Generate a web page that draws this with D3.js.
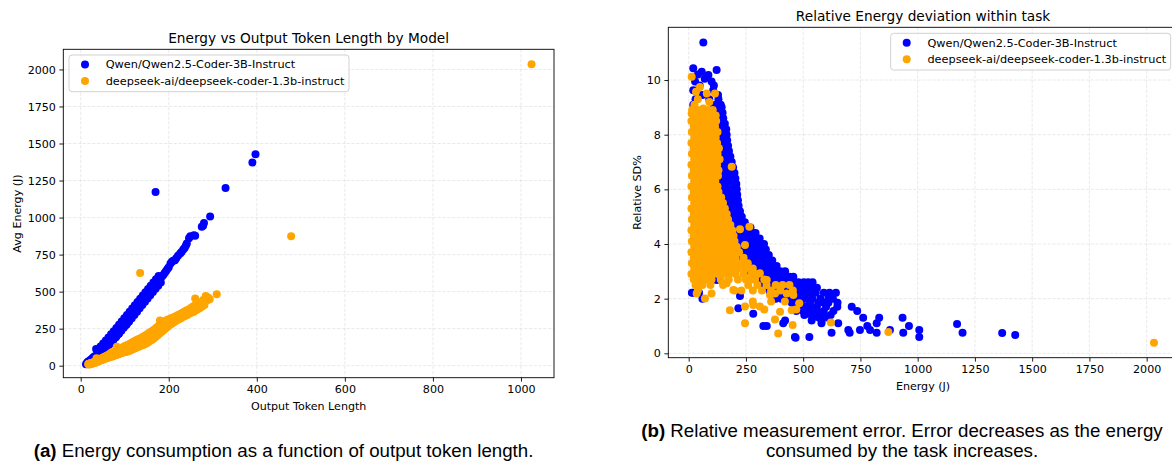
<!DOCTYPE html>
<html>
<head>
<meta charset="utf-8">
<script src="https://cdn.jsdelivr.net/npm/d3@7"></script>
<style>
  body { margin: 0; background: #fff; }
  svg { display: block; }
</style>
</head>
<body>
<svg id="fig" width="1172" height="461"></svg>
<script>
// ---- data ----
var seriesNames = ["Qwen/Qwen2.5-Coder-3B-Instruct", "deepseek-ai/deepseek-coder-1.3b-instruct"];
var seriesColors = ["blue", "orange"];

var tokenTicks = [0, 200, 400, 600, 800, 1000];
var energyTicks = [0, 250, 500, 750, 1000, 1250, 1500, 1750, 2000];
var sdTicks = [0, 2, 4, 6, 8, 10];

// (a) [output tokens, avg energy J]
var qwenTokens = [
  [12,10],[14,16],[15,22],[17,28],[18,20],[20,32],[22,38],[23,30],[25,45],[27,52],[28,42],[30,58],
  [32,64],[33,52],[35,112],[36,70],[38,78],[40,84],[41,72],[43,92],[45,100],[47,90],[48,108],[50,116],
  [52,108],[53,124],[55,132],[57,126],[58,140],[60,146],[62,138],[63,154],[65,160],[67,156],[68,168],
  [70,176],[72,172],[73,184],[75,192],[77,188],[78,200],[80,208],[82,204],[83,216],[85,224],[87,218],
  [88,232],[90,242],[92,238],[93,250],[95,260],[97,256],[98,268],[100,278],[102,274],[103,288],[105,296],
  [107,292],[108,306],[110,314],[112,322],[113,330],[115,334],[117,340],[118,350],[120,356],[122,362],
  [124,370],[125,378],[127,382],[129,392],[130,398],[132,404],[134,412],[135,421],[137,426],[139,432],
  [141,440],[143,448],[145,455],[147,462],[149,470],[151,478],[153,484],[155,492],[157,500],[159,510],
  [161,514],[163,522],[165,530],[167,538],[169,545],[171,552],[173,564],[175,570],[177,578],[179,584],
  [182,595],[185,604],[188,614],[191,628],[194,640],[197,652],[200,664],[204,690],[207,701],[210,708],
  [214,712],[217,726],[221,742],[226,758],[229,768],[233,784],[236,795],[239,812],[241,825],[246,860],
  [249,874],[257,880],[260,878],[275,938],[278,945],[280,964],[294,1008],
  [45,130],[51,150],[57,170],[63,190],[69,212],[75,232],[81,254],[87,276],[93,298],[99,320],[105,342],
  [111,364],[117,386],[123,408],[129,430],[135,452],[141,474],[147,496],[153,518],[159,540],[165,562],
  [171,584],[177,606],
  [50,90],[56,110],[62,130],[68,150],[74,172],[80,192],[86,214],[92,236],[98,258],[104,276],[110,298],
  [116,320],[122,342],[128,364],[134,388],[140,410],[146,432],[152,454],[158,476],[164,498],[170,520],
  [176,540],[182,562],
  [170,1173],[329,1200],[390,1371],[397,1427]
];
var deepseekTokens = [
  [17,10],[18,13],[19,8],[20,14],[21,10],[22,16],[23,12],[24,18],[25,14],[26,20],[27,16],[28,22],[29,17],
  [30,24],[31,19],[32,26],[33,21],[34,28],[35,23],[36,50],[36,30],[37,26],[38,34],[39,28],[40,36],[41,30],
  [42,40],[43,34],[44,42],[45,36],[46,46],[47,38],[48,50],[49,42],[50,54],[50,40],[52,50],[53,58],[54,46],
  [55,56],[56,62],[57,48],[58,60],[59,68],[60,52],[61,64],[62,72],[63,54],[64,66],[65,78],[66,58],[67,72],
  [68,84],[69,60],[70,76],[71,90],[72,62],[73,80],[74,94],[75,66],[76,84],[77,100],[78,70],[79,88],
  [80,104],[81,72],[82,128],[82,92],[83,76],[84,108],[85,96],[86,78],[87,112],[88,100],[89,82],[90,116],
  [91,104],[92,86],[93,120],[94,106],[95,88],[96,124],[97,110],[98,90],[99,130],[100,112],[101,92],
  [102,134],[103,114],[104,94],[105,138],[106,118],[107,98],[108,142],[109,122],[110,100],[111,146],
  [112,126],[113,104],[114,152],[115,130],[116,108],[117,156],[118,134],[119,112],[120,162],[121,138],
  [122,116],[123,166],[124,142],[125,120],[126,172],[127,146],[128,124],[129,176],[130,150],[131,128],
  [132,180],[133,154],[134,132],[136,186],[137,158],[138,136],[140,192],[141,162],[142,140],[144,198],
  [145,168],[146,146],[148,206],[149,176],[150,152],[152,214],[153,184],[154,160],[156,222],[157,192],
  [158,168],[160,230],[161,200],[162,176],[164,238],[165,208],[166,184],[168,246],[169,216],[170,194],
  [172,256],[173,226],[174,204],[176,266],[177,236],[178,214],[180,305],[180,276],[181,246],[182,224],
  [184,286],[185,254],[186,234],[188,294],[189,262],[190,244],[192,302],[193,272],[194,254],[196,308],
  [197,282],[198,264],[200,314],[201,290],[202,274],[205,320],[206,300],[207,284],[210,326],[211,308],
  [212,294],[215,332],[216,318],[217,304],[220,340],[221,326],[222,312],[225,348],[226,334],[227,319],
  [230,356],[231,342],[232,328],[235,364],[236,350],[237,336],[240,372],[241,358],[242,342],[245,380],
  [246,366],[247,352],[250,390],[251,376],[252,360],[255,400],[256,386],[257,364],[260,454],[260,408],
  [261,394],[263,376],[266,418],[267,402],[269,386],[272,428],[273,412],[275,398],[278,443],[279,426],
  [281,410],[284,470],[285,452],[286,465],[287,440],[290,458],[293,448],[309,483],
  [135,625],[478,874],[1024,2035]
];

// (b) rows: [relative SD %, energies J ...]
var qwenDevRows = [
  [11.37,64],[10.43,20],[10.37,122],[10.3,57],[10.2,40],[10.18,86],[10.05,70],[9.95,28,100],[9.8,48,110],
  [9.63,20,107],[9.45,60,128],[9.3,30,90,130],[9.1,20,118,140],[9.0,110,128,144],[8.8,112,130,148],
  [8.6,118,136,151],[8.4,120,140,158],[8.2,125,145,164],[8.0,130,150,166],[7.8,132,150,168],
  [7.6,135,155,172],[7.4,140,158,176],[7.2,142,162,182],[7.0,140,158,175,188],[6.8,138,156,176,194],
  [6.6,140,160,180,200],[6.4,142,162,184,204],[6.2,140,160,182,208],[6.0,142,164,188,210],
  [5.8,140,162,186,212],[5.6,150,172,194,215],[5.4,158,180,200,218],[5.2,165,185,205,224],
  [5.0,172,192,212,232],[4.8,180,200,222,245],[4.6,185,205,228,250,270],[4.4,190,212,235,258,280,292],
  [4.2,198,220,242,265,288,310],[4.0,205,228,250,272,295,315,329],[3.8,212,235,258,280,302,322,337],
  [3.6,222,245,268,290,312,332,350],[3.4,235,258,280,302,325,345,365],[3.2,250,272,295,318,340,362,384],
  [3.0,265,288,310,332,355,378,400,421],[2.8,285,308,330,352,375,398,420,440,457],
  [2.68,93,122],[2.6,305,328,350,372,395,418,442,465,480,503,522,541],
  [2.4,330,352,375,398,420,445,470,495,520,540,560],
  [2.22,14,20,45,355,380,405,430,455,480,505,530,555,590,615,643],[2.1,224],
  [2.0,60,380,405,430,455,480,510,540,575,610,630],[1.85,450,490,530,566,590,610,650],
  [1.7,480,510,530,560,600,649,712],[1.65,217],[1.55,470,500,530,560,590,632,736],[1.45,282,515,588],
  [1.4,505,540,620],[1.3,540,570,610,762,832,934],[1.2,421,537,581],[1.1,413,580,653,821],
  [1.07,1172],[1.0,326,341,780,962],[0.85,697,748,792,879,1007],[0.75,624,703,821,937,1196],
  [0.74,1369],[0.67,1426],[0.6,464,527,1007],[0.57,467]
];
var deepseekDevRows = [
  [10.12,13],[9.75,49],[9.57,32],[9.51,79,115],[9.3,40],[9.2,90],[9.1,25],[8.96,64],[8.78,13],
  [8.9,15,40,62,85,105],[8.7,24,48,72,96,118],[8.5,12,35,58,80,102,120],[8.3,22,46,70,92,115],
  [8.1,14,36,58,82,105,126],[7.9,24,46,70,94,118],[7.7,12,34,56,80,102,124],[7.5,22,46,68,92,114,132],
  [7.3,14,36,58,82,104,126],[7.1,24,46,70,94,116,135],[6.9,12,34,56,80,102,124],[6.83,188],
  [6.7,22,46,68,92,114,130],[6.5,14,36,58,82,104,128],[6.3,24,46,70,94,116],[6.1,12,34,56,80,102,126],
  [5.9,22,46,68,92,114,130],[5.7,14,36,58,82,104,126,142],[5.5,24,46,70,94,116,138,150],
  [5.3,12,34,56,80,102,124,146,158],[5.1,22,46,68,92,114,136,158,166],[4.9,14,36,58,82,104,126,148,172],
  [4.7,24,46,70,94,116,138,160,182],[4.63,265],[4.54,224],[4.5,12,34,56,80,102,124,146,168,190],
  [4.3,22,46,68,92,114,136,158,180,196],[4.1,14,36,58,82,104,126,148,170,200],[3.96,246],
  [3.9,24,46,70,94,116,138,160,182,210],[3.7,12,34,56,80,102,124,146,168,190,220],
  [3.5,22,46,68,92,114,136,158,180,205,240],[3.3,14,36,58,82,104,126,148,170,195,225,258],
  [3.17,224],[3.1,24,46,70,94,116,138,160,185,215,250,280],
  [2.93,311],[2.9,12,34,56,80,104,128,150,175,205,240,275,300],[2.7,22,48,75,100,140,175,215,250,290,330],
  [2.68,268,341],[2.56,166],[2.5,30,60,95,150,260,300,340,380,410,440],[2.32,195],
  [2.3,40,200,230,280,320,360,400,455],[2.19,35,100,377,428],[2.13,355,457],[2.01,71],[1.9,280,360,420],
  [1.83,483],[1.77,282],[1.71,246,311],[1.6,330,470],[1.58,180,450],[1.52,399],[1.24,377],[1.13,621],
  [1.1,246],[1.04,454],[0.78,872],[0.73,391],[0.39,2032]
];

function rowsToPoints(rows) {
  var pts = [];
  rows.forEach(function(r) {
    for (var i = 1; i < r.length; i++) pts.push([r[i], r[0]]);
  });
  return pts;
}

var svg = d3.select("#fig");
svg.append("rect").attr("width", 1172).attr("height", 461).attr("fill", "#fff");

var FONT = "DejaVu Sans";
var R = 4;

function panel(cfg) {
  var g = svg.append("g");
  var x = d3.scaleLinear().domain(cfg.xDomain).range([cfg.left, cfg.right]);
  var y = d3.scaleLinear().domain(cfg.yDomain).range([cfg.bottom, cfg.top]);

  // grid
  var grid = g.append("g").attr("stroke", "#b0b0b0").attr("stroke-opacity", 0.3)
    .attr("stroke-width", 0.9).attr("stroke-dasharray", "3.3,1.5");
  grid.selectAll(".gx").data(cfg.xTicks).join("line")
    .attr("x1", function(d) { return x(d); }).attr("x2", function(d) { return x(d); })
    .attr("y1", cfg.top).attr("y2", cfg.bottom);
  grid.selectAll(".gy").data(cfg.yTicks).join("line")
    .attr("y1", function(d) { return y(d); }).attr("y2", function(d) { return y(d); })
    .attr("x1", cfg.left).attr("x2", cfg.right);

  // points
  cfg.series.forEach(function(pts, i) {
    g.append("g").selectAll("circle").data(pts).join("circle")
      .attr("cx", function(d) { return x(d[0]); })
      .attr("cy", function(d) { return y(d[1]); })
      .attr("r", R)
      .attr("fill", seriesColors[i]);
  });

  // axes
  var ax = g.append("g").attr("transform", "translate(0," + cfg.bottom + ")")
    .call(d3.axisBottom(x).tickValues(cfg.xTicks).tickSize(3.9).tickPadding(3.5).tickFormat(d3.format("d")));
  var ay = g.append("g").attr("transform", "translate(" + cfg.left + ",0)")
    .call(d3.axisLeft(y).tickValues(cfg.yTicks).tickSize(3.9).tickPadding(3.5).tickFormat(d3.format("d")));
  [ax, ay].forEach(function(a) {
    a.select(".domain").remove();
    a.attr("font-family", FONT).attr("font-size", 11.1);
    a.selectAll("line").attr("stroke", "#000").attr("stroke-width", 0.9);
    a.selectAll("text").attr("fill", "#000");
  });

  // spines
  g.append("rect").attr("x", cfg.left).attr("y", cfg.top)
    .attr("width", cfg.right - cfg.left).attr("height", cfg.bottom - cfg.top)
    .attr("fill", "none").attr("stroke", "#000").attr("stroke-width", 0.9);

  // legend
  var lg = g.append("g").attr("transform", "translate(" + cfg.legendX + "," + cfg.legendY + ")");
  lg.append("rect").attr("width", 280).attr("height", 36.7).attr("rx", 3)
    .attr("fill", "#fff").attr("fill-opacity", 0.8).attr("stroke", "#cccccc").attr("stroke-width", 0.9);
  seriesNames.forEach(function(name, i) {
    var yy = 9.4 + i * 16.6;
    lg.append("circle").attr("cx", 16).attr("cy", yy).attr("r", R).attr("fill", seriesColors[i]);
    lg.append("text").attr("x", 36.7).attr("y", yy).attr("dy", "0.36em")
      .attr("font-family", FONT).attr("font-size", 11.3).text(name);
  });

  // titles and labels
  var cx = (cfg.left + cfg.right) / 2;
  g.append("text").attr("x", cx).attr("y", cfg.top - 6.7).attr("text-anchor", "middle")
    .attr("font-family", FONT).attr("font-size", 13.7).text(cfg.title);
  g.append("text").attr("x", cx).attr("y", cfg.bottom + 32).attr("text-anchor", "middle")
    .attr("font-family", FONT).attr("font-size", 11.1).text(cfg.xLabel);
  g.append("text")
    .attr("transform", "translate(" + cfg.yLabelX + "," + ((cfg.top + cfg.bottom) / 2) + ") rotate(-90)")
    .attr("text-anchor", "middle").attr("dy", "0.36em")
    .attr("font-family", FONT).attr("font-size", 11.1).text(cfg.yLabel);
}

panel({
  left: 63.3, right: 554, top: 49.3, bottom: 377.7,
  xDomain: [-39.5, 1075], yDomain: [-81, 2136],
  xTicks: tokenTicks, yTicks: energyTicks,
  series: [qwenTokens, deepseekTokens],
  legendX: 69, legendY: 55,
  title: "Energy vs Output Token Length by Model",
  xLabel: "Output Token Length", yLabel: "Avg Energy (J)", yLabelX: 16.5
});

panel({
  left: 668.3, right: 1177.8, top: 27.3, bottom: 357.7,
  xDomain: [-89, 2136], yDomain: [-0.16, 11.93],
  xTicks: energyTicks, yTicks: sdTicks,
  series: [rowsToPoints(qwenDevRows), rowsToPoints(deepseekDevRows)],
  legendX: 890.7, legendY: 33.3,
  title: "Relative Energy deviation within task",
  xLabel: "Energy (J)", yLabel: "Relative SD%", yLabelX: 636.5
});

// captions
var CAP = "Liberation Sans";
var CAP_SIZE = 18.7;
var capA = svg.append("text").attr("x", 283.5).attr("y", 457).attr("text-anchor", "middle")
  .attr("font-family", CAP).attr("font-size", CAP_SIZE);
capA.append("tspan").attr("font-weight", "bold").text("(a)");
capA.append("tspan").text(" Energy consumption as a function of output token length.");

var capB = svg.append("text").attr("x", 902).attr("y", 437).attr("text-anchor", "middle")
  .attr("font-family", CAP).attr("font-size", CAP_SIZE);
capB.append("tspan").attr("font-weight", "bold").text("(b)");
capB.append("tspan").text(" Relative measurement error. Error decreases as the energy");
svg.append("text").attr("x", 902).attr("y", 457).attr("text-anchor", "middle")
  .attr("font-family", CAP).attr("font-size", CAP_SIZE).text("consumed by the task increases.");
</script>
</body>
</html>
